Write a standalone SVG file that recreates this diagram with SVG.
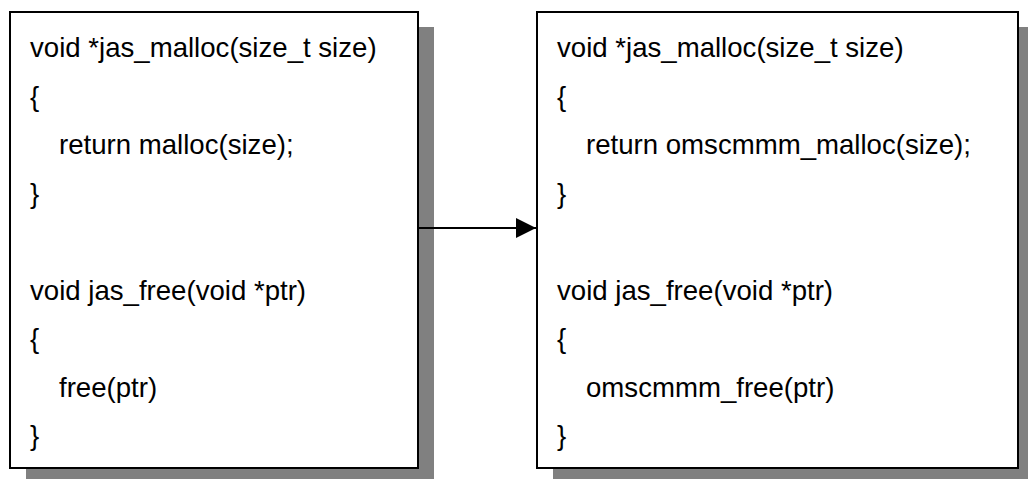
<svg xmlns="http://www.w3.org/2000/svg" width="1028" height="479" viewBox="0 0 1028 479">
  <style>
    .shadow { fill: #808080; stroke: none; }
    .box { fill: #ffffff; stroke: #000000; stroke-width: 2; }
    .code { font-family: "Liberation Sans", Arial, sans-serif; font-size: 27.6px; fill: #000000; }
    .conn { stroke: #000000; stroke-width: 2; fill: none; }
  </style>
  <defs>
    <marker id="arrow" markerWidth="20" markerHeight="20" refX="20" refY="10" orient="auto" markerUnits="userSpaceOnUse">
      <polygon points="0,0 20,10 0,20" fill="#000000"/>
    </marker>
  </defs>
  <rect width="1028" height="479" fill="#ffffff"/>

  <!-- original allocator wrappers -->
  <g id="node-original">
    <rect class="shadow" x="26" y="27" width="408" height="460"/>
    <rect class="box" x="10" y="12" width="408" height="456"/>
    <text class="code" x="30" y="57">void *jas_malloc(size_t size)</text>
    <text class="code" x="30" y="105.5">{</text>
    <text class="code" x="59" y="154">return malloc(size);</text>
    <text class="code" x="30" y="202.5">}</text>
    <text class="code" x="30" y="299.5">void jas_free(void *ptr)</text>
    <text class="code" x="30" y="348">{</text>
    <text class="code" x="59" y="396.5">free(ptr)</text>
    <text class="code" x="30" y="445">}</text>
  </g>

  <!-- wrappers redirected to the OMSCMMM allocator -->
  <g id="node-replaced">
    <rect class="shadow" x="553" y="27" width="481" height="460"/>
    <rect class="box" x="537" y="12" width="481" height="456"/>
    <text class="code" x="557" y="57">void *jas_malloc(size_t size)</text>
    <text class="code" x="557" y="105.5">{</text>
    <text class="code" x="586" y="154">return omscmmm_malloc(size);</text>
    <text class="code" x="557" y="202.5">}</text>
    <text class="code" x="557" y="299.5">void jas_free(void *ptr)</text>
    <text class="code" x="557" y="348">{</text>
    <text class="code" x="586" y="396.5">omscmmm_free(ptr)</text>
    <text class="code" x="557" y="445">}</text>
  </g>

  <g id="connectors">
    <line class="conn" x1="418" y1="228" x2="536" y2="228" marker-end="url(#arrow)"/>
  </g>
</svg>
